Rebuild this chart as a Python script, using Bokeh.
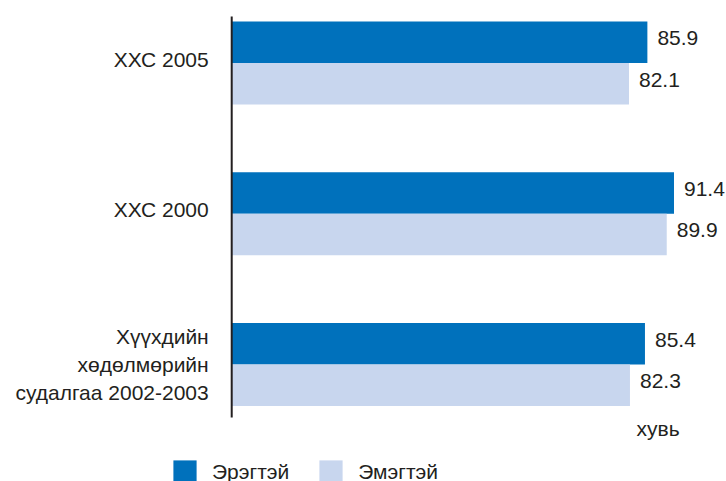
from bokeh.plotting import figure
from bokeh.models import ColumnDataSource, Legend, LegendItem, Label, Range1d
from bokeh.core.properties import value
from bokeh.embed import file_html
from bokeh.resources import INLINE

# ---- data ----
categories = ["ХХС 2005", "ХХС 2000", "Хүүхдийн\nхөдөлмөрийн\nсудалгаа 2002-2003"]
cat_pos = [2, 1, 0]
men = [85.9, 91.4, 85.4]      # Эрэгтэй
women = [82.1, 89.9, 82.3]    # Эмэгтэй
series_names = ["Эрэгтэй", "Эмэгтэй"]
unit_label = "хувь"

DARK = "#0071BC"
LIGHT = "#C8D6EE"
TEXT = "#231F20"
FONT = "Liberation Sans"
BAR_H = 0.275
AXIS_PAD_TOP = 0.3085   # axis line extends this far above the top category
AXIS_PAD_BOT = 0.352    # and this far below the bottom category

src_m = ColumnDataSource(dict(y=[c + BAR_H / 2 for c in cat_pos], v=men,
                              t=[f"{x:.1f}" for x in men]))
src_w = ColumnDataSource(dict(y=[c - BAR_H / 2 for c in cat_pos], v=women,
                              t=[f"{x:.1f}" for x in women]))
src_c = ColumnDataSource(dict(y=cat_pos, x=[0] * len(cat_pos), t=categories,
                              dy=[0 if "\n" in t else -4 for t in categories]))

p = figure(width=726, height=481, output_backend="svg", toolbar_location=None,
           x_range=Range1d(-47.78, 102.25), y_range=Range1d(-0.776, 2.4146),
           x_axis_location=None, y_axis_location=None,
           min_border=0)
p.outline_line_color = None
p.grid.visible = False
p.background_fill_color = "white"
p.border_fill_color = "white"

r_m = p.hbar(y="y", right="v", left=0, height=BAR_H, source=src_m,
             fill_color=DARK, line_color=None)
r_w = p.hbar(y="y", right="v", left=0, height=BAR_H, source=src_w,
             fill_color=LIGHT, line_color=None)

# value labels
for src in (src_m, src_w):
    p.text(x="v", y="y", text="t", source=src, x_offset=10, y_offset=-4,
           text_baseline="middle", text_align="left",
           text_font=value(FONT), text_font_size="21px", text_color=TEXT)

# category axis: line at x = 0 and right-aligned labels
p.segment(x0=0, x1=0, y0=min(cat_pos) - AXIS_PAD_BOT, y1=max(cat_pos) + AXIS_PAD_TOP,
          line_color=TEXT, line_width=2)
p.text(x="x", y="y", text="t", source=src_c, x_offset=-23, y_offset="dy",
       text_baseline="middle", text_align="right", text_line_height=1.22,
       text_font=value(FONT), text_font_size="21px", text_color=TEXT)

p.add_layout(Label(x=636, y=53, x_units="screen", y_units="screen", text=unit_label,
                   text_font=FONT, text_font_size="21px", text_color=TEXT,
                   text_baseline="middle"))

legend = Legend(items=[LegendItem(label=series_names[0], renderers=[r_m]),
                       LegendItem(label=series_names[1], renderers=[r_w])],
                orientation="horizontal", location=(170, -5),
                glyph_width=29, glyph_height=29, label_standoff=13, spacing=27,
                padding=0, margin=0, border_line_color=None,
                background_fill_alpha=0,
                label_text_font=FONT, label_text_font_size="21px",
                label_text_color=TEXT)
p.add_layout(legend)

open("out.html", "w").write(file_html(p, INLINE))
